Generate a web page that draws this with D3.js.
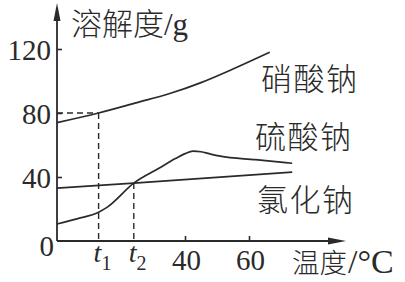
<!DOCTYPE html>
<html>
<head>
  <meta charset="utf-8">
  <title>溶解度曲线</title>
  <script src="https://d3js.org/d3.v7.min.js"></script>
  <style>
    body { margin: 0; background: #fff; }
    svg { display: block; }
    .cjk { font-family: "Noto Sans CJK SC", sans-serif; font-weight: 300; fill: #2a2a2a; }
    .num { font-family: "Liberation Serif", "DejaVu Serif", serif; fill: #2a2a2a; }
  </style>
</head>
<body>

<svg></svg>

<script>

// solubility curves (temperature °C, solubility g)
var nitrateT = [0, 13, 25, 35, 45, 55, 66.5]
var nitrateS = [74, 80, 86.5, 92, 99, 107.5, 118]

var sulfateT = [0, 6.5, 13, 15.6, 24, 32, 37, 40, 42.5, 45, 48, 51, 62, 73.5]
var sulfateS = [10.6, 14, 18, 21, 36.2, 45.6, 51.5, 54.6, 56.2, 55.8, 54.3, 53, 50.8, 48.6]

var chlorideT = [0, 24, 73.5]
var chlorideS = [33, 36.2, 43]

var yTicks = [40, 80, 120]
var xTicks = [40, 60]
var t1 = 13, t2 = 24
var t1Sol = 80, t2Sol = 36.2

var seriesNames = ['硝酸钠', '硫酸钠', '氯化钠']

var width = 405, height = 282
var ink = '#2a2a2a'

var svg = d3.select('svg')
  .attr('width', width)
  .attr('height', height)

var x = d3.scaleLinear().domain([0, 60]).range([57, 249])
var y = d3.scaleLinear().domain([0, 120]).range([241, 49])

// axes with arrows
svg.append('line')
  .attr('x1', x(0)).attr('y1', y(0))
  .attr('x2', x(0)).attr('y2', 16)
  .attr('stroke', ink).attr('stroke-width', 1.8)
svg.append('path')
  .attr('d', 'M' + x(0) + ',3 L' + (x(0) - 3.5) + ',21 L' + (x(0) + 3.5) + ',21 Z')
  .attr('fill', ink)

svg.append('line')
  .attr('x1', x(0)).attr('y1', y(0))
  .attr('x2', 332).attr('y2', y(0))
  .attr('stroke', ink).attr('stroke-width', 1.8)
svg.append('path')
  .attr('d', 'M346,' + y(0) + ' L328,' + (y(0) - 3.5) + ' L328,' + (y(0) + 3.5) + ' Z')
  .attr('fill', ink)

var yAxis = svg.append('g')
  .attr('transform', 'translate(' + x(0) + ',0)')
  .call(d3.axisLeft(y).tickValues(yTicks).tickSizeInner(-5).tickSizeOuter(0).tickPadding(6))
yAxis.select('.domain').remove()
yAxis.selectAll('line').attr('stroke', ink).attr('stroke-width', 1.6)
yAxis.selectAll('text')
  .attr('class', 'num')
  .attr('font-size', 29)
  .attr('dy', '0.36em')

var xAxis = svg.append('g')
  .attr('transform', 'translate(0,' + y(0) + ')')
  .call(d3.axisBottom(x).tickValues(xTicks).tickSizeInner(-5).tickSizeOuter(0).tickPadding(8))
xAxis.select('.domain').remove()
xAxis.selectAll('line').attr('stroke', ink).attr('stroke-width', 1.6)
xAxis.selectAll('text')
  .attr('class', 'num')
  .attr('font-size', 29)
  .attr('dx', 1)

svg.append('text')
  .attr('class', 'num')
  .attr('x', 54).attr('y', 256)
  .attr('text-anchor', 'end')
  .attr('font-size', 29)
  .text('0')

// t1, t2 labels
;[[t1, '1'], [t2, '2']].forEach(function (t) {
  var lab = svg.append('text')
    .attr('class', 'num')
    .attr('x', x(t[0]) - 5)
    .attr('y', 262)
    .attr('font-size', 28)
  lab.append('tspan').attr('font-style', 'italic').text('t')
  lab.append('tspan').attr('font-size', 20).attr('dy', 8).text(t[1])
})

// dashed guides
var dash = '6,4'
svg.append('line')
  .attr('x1', x(0)).attr('y1', y(t1Sol))
  .attr('x2', x(t1)).attr('y2', y(t1Sol))
  .attr('stroke', ink).attr('stroke-width', 1.4).attr('stroke-dasharray', dash)
svg.append('line')
  .attr('x1', x(t1)).attr('y1', y(t1Sol))
  .attr('x2', x(t1)).attr('y2', y(0))
  .attr('stroke', ink).attr('stroke-width', 1.4).attr('stroke-dasharray', dash)
svg.append('line')
  .attr('x1', x(t2)).attr('y1', y(t2Sol))
  .attr('x2', x(t2)).attr('y2', y(0))
  .attr('stroke', ink).attr('stroke-width', 1.4).attr('stroke-dasharray', dash)

// curves
var line = d3.line()
  .x(function (d) { return x(d[0]) })
  .y(function (d) { return y(d[1]) })
  .curve(d3.curveMonotoneX)

var curves = [
  d3.zip(nitrateT, nitrateS),
  d3.zip(sulfateT, sulfateS),
  d3.zip(chlorideT, chlorideS)
]

svg.selectAll('.curve')
  .data(curves)
  .enter()
  .append('path')
  .classed('curve', true)
  .attr('d', line)
  .attr('fill', 'none')
  .attr('stroke', ink)
  .attr('stroke-width', 1.7)

// curve names
var namePos = [[261, 90], [255, 148], [257, 211]]
svg.selectAll('.name')
  .data(seriesNames)
  .enter()
  .append('text')
  .attr('class', 'cjk name')
  .attr('x', function (d, i) { return namePos[i][0] })
  .attr('y', function (d, i) { return namePos[i][1] })
  .attr('font-size', 31)
  .attr('letter-spacing', 1.5)
  .text(function (d) { return d })

// axis titles
var yTitle = svg.append('text').attr('x', 71).attr('y', 35)
yTitle.append('tspan').attr('class', 'cjk').attr('font-size', 31).text('溶解度')
yTitle.append('tspan').attr('class', 'num').attr('font-size', 31).text('/g')

var xTitle = svg.append('text').attr('x', 292).attr('y', 273)
xTitle.append('tspan').attr('class', 'cjk').attr('font-size', 27.5).text('温度')
xTitle.append('tspan').attr('class', 'num').attr('font-size', 34).attr('dx', 1).text('/°C')

</script>

</body>
</html>
